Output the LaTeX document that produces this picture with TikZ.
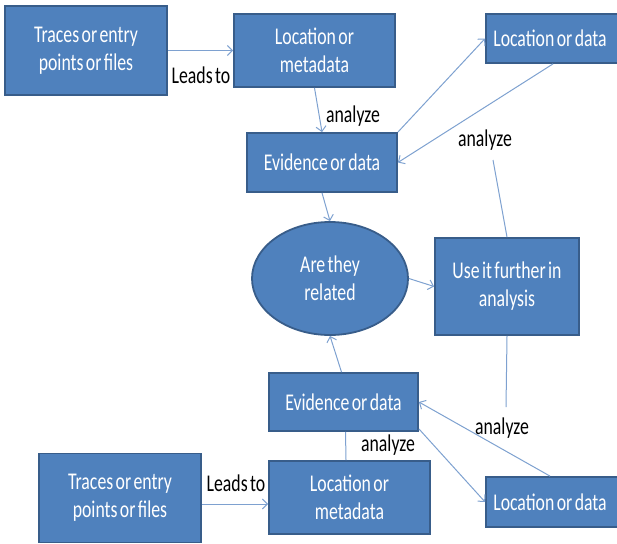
\documentclass[tikz,border=0pt]{standalone}
\usepackage{fontspec}
\setmainfont{Carlito}[FakeStretch=0.74,WordSpace=0.6]
\usetikzlibrary{shapes.geometric,arrows.meta,calc}
\definecolor{boxfill}{HTML}{4F81BD}
\definecolor{boxline}{HTML}{385D8A}
\definecolor{conn}{HTML}{7EA1D0}
\begin{document}
\begin{tikzpicture}[x=1pt,y=-1pt,
  box/.style={draw=boxline,line width=1.8pt,fill=boxfill,text=white,align=center,
    inner sep=0pt,font=\fontsize{24}{28}\selectfont},
  oval/.style={box,ellipse},
  lbl/.style={text=black,font=\fontsize{24}{28}\selectfont,inner sep=0pt},
  conn/.style={draw=conn,line width=1pt},
  arr/.style={conn,-{Straight Barb[length=5pt,width=10pt]}}]
\useasboundingbox (0,0) rectangle (617,543);
% nodes
\node[box,minimum width=162pt,minimum height=89pt] (t1) at (86,50.5) {Traces or entry\\points or files};
\node[box,minimum width=161pt,minimum height=73pt] (lm1) at (314.5,50.5) {Location or\\metadata};
\node[box,minimum width=134pt,minimum height=49pt] (ld1) at (553,38.5) {\hspace*{-3pt}Location or data\hspace*{3pt}};
\node[box,minimum width=150pt,minimum height=59pt] (ev1) at (322,162.5) {Evidence or data};
\node[oval,minimum width=156pt,minimum height=113pt] (el) at (330,278.5) {Are they\\related};
\node[box,minimum width=144pt,minimum height=97pt] (use) at (507,286.5) {Use it further in\\analysis};
\node[box,minimum width=149pt,minimum height=58pt] (ev2) at (343.5,402) {Evidence or data};
\node[box,minimum width=161pt,minimum height=73pt] (lm2) at (349.5,497.5) {Location or\\metadata};
\node[box,minimum width=162pt,minimum height=89pt] (t2) at (120,498) {Traces or entry\\points or files};
\node[box,minimum width=134pt,minimum height=50pt] (ld2) at (553,502) {\hspace*{-3pt}Location or data\hspace*{3pt}};
\coordinate (a1) at (493,160);
\coordinate (a2) at (506,407);
% connectors
\draw[arr] (t1.east) -- (lm1.west);
\node[lbl] at (201,75) {Leads to};
\draw[arr] (lm1.south) -- (ev1.north);
\node[lbl] at (353,116) {analyze};
\draw[arr] (ev1.north east) -- (ld1.west);
\draw[arr] (ld1.south) -- (ev1.east);
\draw[conn] (use.north) -- (a1);
\node[lbl] at (485,140) {analyze};
\draw[arr] (ev1.south) -- (el.north);
\draw[arr] (el.east) -- (use.west);
\draw[arr] ([xshift=-2pt]ev2.north) -- (el.south);
\draw[conn] (use.south) -- (a2);
\node[lbl] at (502,428) {analyze};
\draw[arr] ([xshift=-3pt]ld2.north) -- (ev2.east);
\draw[arr] ([yshift=3pt]ev2.south east) -- (ld2.west);
\draw[conn] ([xshift=2pt]ev2.south) -- ([xshift=-3.5pt]lm2.north);
\node[lbl] at (388,445) {analyze};
\draw[arr] ([yshift=-6pt]t2.east) -- ([yshift=-6.5pt]lm2.west);
\node[lbl] at (236,483) {Leads to};
\end{tikzpicture}
\end{document}
